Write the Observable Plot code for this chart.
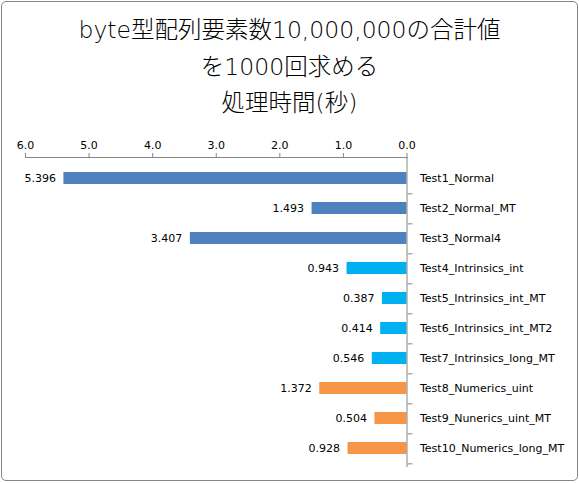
<!DOCTYPE html>
<html>
<head>
<meta charset="utf-8">
<script src="https://cdn.jsdelivr.net/npm/d3@7"></script>
<script src="https://cdn.jsdelivr.net/npm/@observablehq/plot@0.6"></script>
<style>
  html, body { margin: 0; padding: 0; background: #fff; }
  #wrap { position: relative; width: 579px; height: 483px; overflow: hidden; }
  #border { position: absolute; left: 1px; top: 1px; width: 575px; height: 478px; border: 1px solid #868686; border-radius: 5px; }
  #title { position: absolute; left: 0; top: 12px; width: 579px; text-align: center;
    font-family: "DejaVu Sans", "Noto Sans CJK JP", sans-serif; font-weight: 200; font-size: 23.5px; line-height: 36.5px; color: #000; }
  #chart { position: absolute; left: 0; top: 125px; width: 579px; height: 358px; }
  #chart svg { display: block; }
</style>
</head>
<body>
<div id="wrap">
  <div id="border"></div>
  <div id="title">byte型配列要素数10,000,000の合計値<br>を1000回求める<br>処理時間(秒)</div>
  <div id="chart"></div>
</div>
<script>
const names = ["Test1_Normal","Test2_Normal_MT","Test3_Normal4","Test4_Intrinsics_int","Test5_Intrinsics_int_MT","Test6_Intrinsics_int_MT2","Test7_Intrinsics_long_MT","Test8_Numerics_uint","Test9_Nunerics_uint_MT","Test10_Numerics_long_MT"];
const values = [5.396, 1.493, 3.407, 0.943, 0.387, 0.414, 0.546, 1.372, 0.504, 0.928];
const groups = ["Normal","Normal","Normal","Intrinsics","Intrinsics","Intrinsics","Intrinsics","Numerics","Numerics","Numerics"];
const groupNames = ["Normal","Intrinsics","Numerics"];
const groupColors = ["#4F81BD","#00B0F0","#F79646"];
const xTicks = [0,1,2,3,4,5,6];

const data = names.map((n, i) => ({name: n, value: values[i], group: groups[i]}));

const W = 579, H = 358, mT = 32, mB = 16, insetTop = 3;
const step = (H - mB - mT - insetTop) / names.length;
const font = "'DejaVu Sans', sans-serif";

const chart = Plot.plot({
  width: W, height: H,
  marginTop: mT, marginBottom: mB, marginLeft: 25, marginRight: 172.5,
  style: {fontFamily: font, fontSize: "11px", color: "#000", background: "transparent"},
  x: {domain: [0, 6], reverse: true, axis: null, label: null},
  y: {domain: names, paddingInner: 0.585, paddingOuter: 0.2925, insetTop: insetTop, axis: null, label: null},
  color: {domain: groupNames, range: groupColors},
  marks: [
    Plot.barX(data, {x: "value", y: "name", fill: "group"}),
    Plot.text(data, {x: "value", y: "name", text: d => d3.format(".3f")(d.value), textAnchor: "end", dx: -8, fill: "#000", fontSize: 11}),
    Plot.frame({anchor: "top", stroke: "#868686"}),
    Plot.ruleX([0], {stroke: "#868686"}),
    Plot.axisX({anchor: "top", ticks: xTicks, tickFormat: d3.format(".1f"), tickSize: 5, tickPadding: 4, stroke: "#868686", fill: "#000", fontSize: 11, label: null}),
    Plot.axisY({anchor: "right", tickSize: 0, tickPadding: 13, fill: "#000", fontSize: 11, label: null}),
    Plot.axisY({anchor: "right", tickSize: 5, tickFormat: null, dy: step / 2, stroke: "#868686", label: null})
  ]
});
document.getElementById("chart").appendChild(chart);
</script>
</body>
</html>
